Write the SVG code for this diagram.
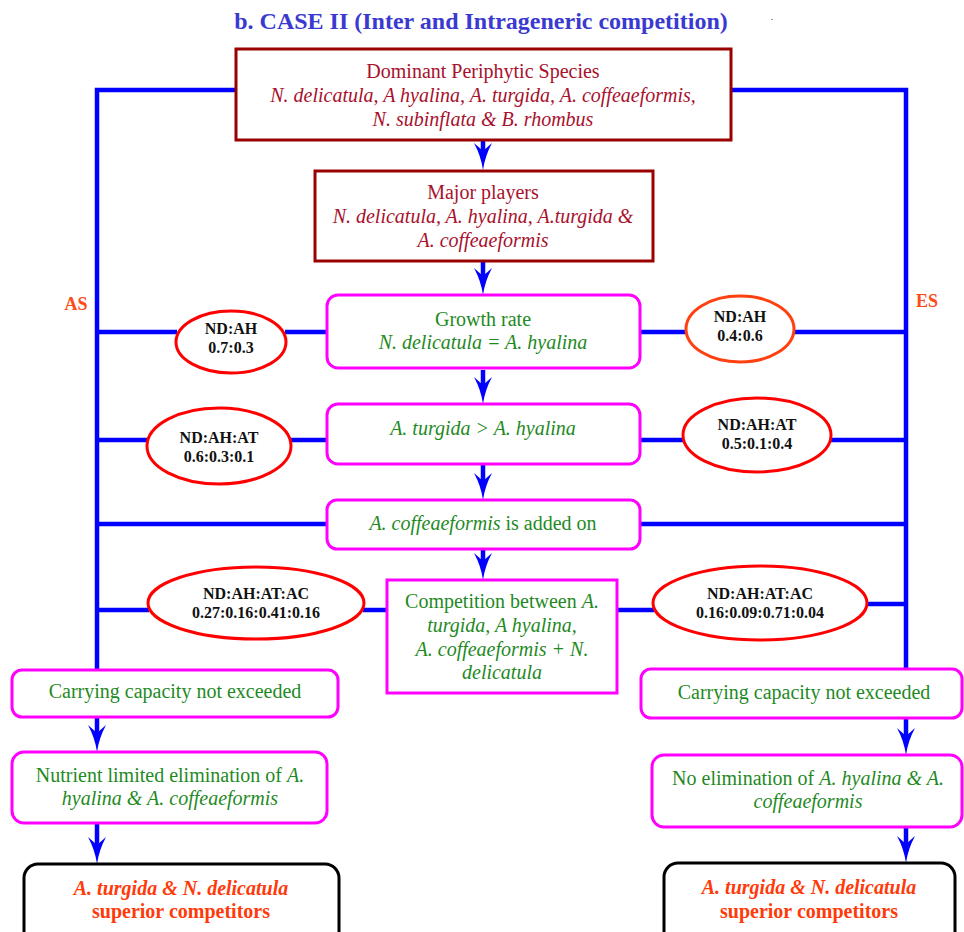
<svg xmlns="http://www.w3.org/2000/svg" width="964" height="932" viewBox="0 0 964 932">
<style>
text{font-family:"Liberation Serif","Times New Roman",serif;text-anchor:middle}
.title{font-size:24px;font-weight:bold;fill:#3a3ad0}
.dr{font-size:20px;fill:#a8102c}
.gr{font-size:20px;fill:#1f8a1f}
.el{font-size:16px;font-weight:bold;fill:#111}
.fin{font-size:20px;font-weight:bold;fill:#ff3a0a}
.lbl{font-size:18px;font-weight:bold;fill:#ff4a1a}
.i{font-style:italic}
.sq{fill:#fff;stroke:#990000;stroke-width:3}
.mg{fill:#fff;stroke:#ff00ff;stroke-width:3}
.blk{fill:#fff;stroke:#000;stroke-width:3}
.ell{fill:#fff;stroke:#ff0000;stroke-width:3}
.ln{stroke:#0000ff;stroke-width:4.5;fill:none}
.ar{stroke:#0000ff;stroke-width:4.5;fill:none;marker-end:url(#ah)}
</style>
<defs>
<marker id="ah" viewBox="-9 -10 30 20" markerWidth="30" markerHeight="20" refX="0" refY="0" orient="auto" markerUnits="userSpaceOnUse">
<path d="M19,0 Q5,-2 -8,-9 L0,0 L-8,9 Q5,2 19,0 Z" fill="#0000ff"/>
</marker>
</defs>
<text class="title" x="481" y="29">b. CASE II (Inter and Intrageneric competition)</text>
<text x="772" y="20" style="font-size:10px;fill:#444">.</text>
<g id="connectors">
<polyline class="ln" points="236,90 97,90 97,670"/>
<polyline class="ln" points="731,90 906,90 906,669"/>
<line class="ln" x1="97" y1="332" x2="177" y2="332"/>
<line class="ln" x1="285" y1="332" x2="327" y2="332"/>
<line class="ln" x1="640" y1="332" x2="687" y2="332"/>
<line class="ln" x1="793" y1="332" x2="906" y2="332"/>
<line class="ln" x1="97" y1="440" x2="148" y2="440"/>
<line class="ln" x1="290" y1="440" x2="327" y2="440"/>
<line class="ln" x1="640" y1="440" x2="684" y2="440"/>
<line class="ln" x1="830" y1="440" x2="906" y2="440"/>
<line class="ln" x1="97" y1="524" x2="327" y2="524"/>
<line class="ln" x1="640" y1="524" x2="906" y2="524"/>
<line class="ln" x1="97" y1="610" x2="149" y2="610"/>
<line class="ln" x1="363" y1="610" x2="387" y2="610"/>
<line class="ln" x1="617" y1="610" x2="654" y2="610"/>
<line class="ln" x1="867" y1="604" x2="906" y2="604"/>
<line class="ar" x1="483" y1="141" x2="483" y2="151"/>
<line class="ar" x1="483" y1="262" x2="483" y2="276"/>
<line class="ar" x1="483" y1="370" x2="483" y2="385"/>
<line class="ar" x1="483" y1="465" x2="483" y2="481"/>
<line class="ar" x1="483" y1="550" x2="483" y2="561"/>
<line class="ar" x1="97" y1="718" x2="97" y2="733"/>
<line class="ar" x1="97" y1="824" x2="97" y2="845"/>
<line class="ar" x1="906" y1="719" x2="906" y2="736"/>
<line class="ar" x1="906" y1="828" x2="906" y2="844"/>
</g>
<g id="dominant">
<rect class="sq" x="236" y="49" width="495" height="91"/>
<text class="dr" x="483" y="78">Dominant Periphytic Species</text>
<text class="dr i" x="483" y="102">N. delicatula, A hyalina, A. turgida, A. coffeaeformis,</text>
<text class="dr i" x="483" y="126">N. subinflata &amp; B. rhombus</text>
</g>
<g id="major">
<rect class="sq" x="315" y="171" width="338" height="90"/>
<text class="dr" x="483" y="199">Major players</text>
<text class="dr i" x="483" y="223">N. delicatula, A. hyalina, A.turgida &amp;</text>
<text class="dr i" x="483" y="247">A. coffeaeformis</text>
</g>
<g id="growth">
<rect class="mg" x="327" y="295" width="313" height="73" rx="11"/>
<text class="gr" x="483" y="326">Growth rate</text>
<text class="gr i" x="483" y="349">N. delicatula = A. hyalina</text>
</g>
<g id="turgida">
<rect class="mg" x="327" y="404" width="313" height="60" rx="11"/>
<text class="gr i" x="483" y="435">A. turgida &gt; A. hyalina</text>
</g>
<g id="added">
<rect class="mg" x="327" y="500" width="313" height="49" rx="10"/>
<text class="gr" x="483" y="530"><tspan class="i">A. coffeaeformis</tspan> is added on</text>
</g>
<g id="competition">
<rect class="mg" x="387" y="580" width="230" height="113"/>
<text class="gr" x="502" y="608">Competition between <tspan class="i">A.</tspan></text>
<text class="gr i" x="502" y="632">turgida, A hyalina,</text>
<text class="gr i" x="502" y="656">A. coffeaeformis + N.</text>
<text class="gr i" x="502" y="679">delicatula</text>
</g>
<g id="as-label"><text class="lbl" x="76" y="310">AS</text></g>
<g id="es-label"><text class="lbl" x="927" y="307">ES</text></g>
<g id="as1">
<ellipse class="ell" cx="231" cy="342" rx="55" ry="31"/>
<text class="el" x="231" y="334">ND:AH</text>
<text class="el" x="231" y="353">0.7:0.3</text>
</g>
<g id="es1">
<ellipse class="ell" cx="740" cy="329" rx="54" ry="33" style="stroke:#ff4010"/>
<text class="el" x="740" y="322">ND:AH</text>
<text class="el" x="740" y="341">0.4:0.6</text>
</g>
<g id="as2">
<ellipse class="ell" cx="219" cy="446" rx="72" ry="38"/>
<text class="el" x="219" y="443">ND:AH:AT</text>
<text class="el" x="219" y="462">0.6:0.3:0.1</text>
</g>
<g id="es2">
<ellipse class="ell" cx="757" cy="435" rx="74" ry="37"/>
<text class="el" x="757" y="430">ND:AH:AT</text>
<text class="el" x="757" y="449">0.5:0.1:0.4</text>
</g>
<g id="as3">
<ellipse class="ell" cx="256" cy="603" rx="108" ry="36"/>
<text class="el" x="256" y="599">ND:AH:AT:AC</text>
<text class="el" x="256" y="618">0.27:0.16:0.41:0.16</text>
</g>
<g id="es3">
<ellipse class="ell" cx="760" cy="603" rx="107" ry="37"/>
<text class="el" x="760" y="599">ND:AH:AT:AC</text>
<text class="el" x="760" y="618">0.16:0.09:0.71:0.04</text>
</g>
<g id="carry-left">
<rect class="mg" x="12" y="670" width="326" height="47" rx="10"/>
<text class="gr" x="175" y="698">Carrying capacity not exceeded</text>
</g>
<g id="carry-right">
<rect class="mg" x="641" y="669" width="321" height="49" rx="10"/>
<text class="gr" x="804" y="699">Carrying capacity not exceeded</text>
</g>
<g id="nutrient">
<rect class="mg" x="12" y="752" width="315" height="71" rx="12"/>
<text class="gr" x="170" y="782">Nutrient limited elimination of <tspan class="i">A.</tspan></text>
<text class="gr i" x="170" y="805">hyalina &amp; A. coffeaeformis</text>
</g>
<g id="noelim">
<rect class="mg" x="652" y="755" width="310" height="72" rx="12"/>
<text class="gr" x="808" y="785">No elimination of <tspan class="i">A. hyalina &amp; A.</tspan></text>
<text class="gr i" x="808" y="808">coffeaeformis</text>
</g>
<g id="final-left">
<rect class="blk" x="24" y="864" width="315" height="84" rx="14"/>
<text class="fin i" x="181" y="895">A. turgida &amp; N. delicatula</text>
<text class="fin" x="181" y="918">superior competitors</text>
</g>
<g id="final-right">
<rect class="blk" x="664" y="863" width="291" height="85" rx="14"/>
<text class="fin i" x="809" y="894">A. turgida &amp; N. delicatula</text>
<text class="fin" x="809" y="918">superior competitors</text>
</g>
</svg>
